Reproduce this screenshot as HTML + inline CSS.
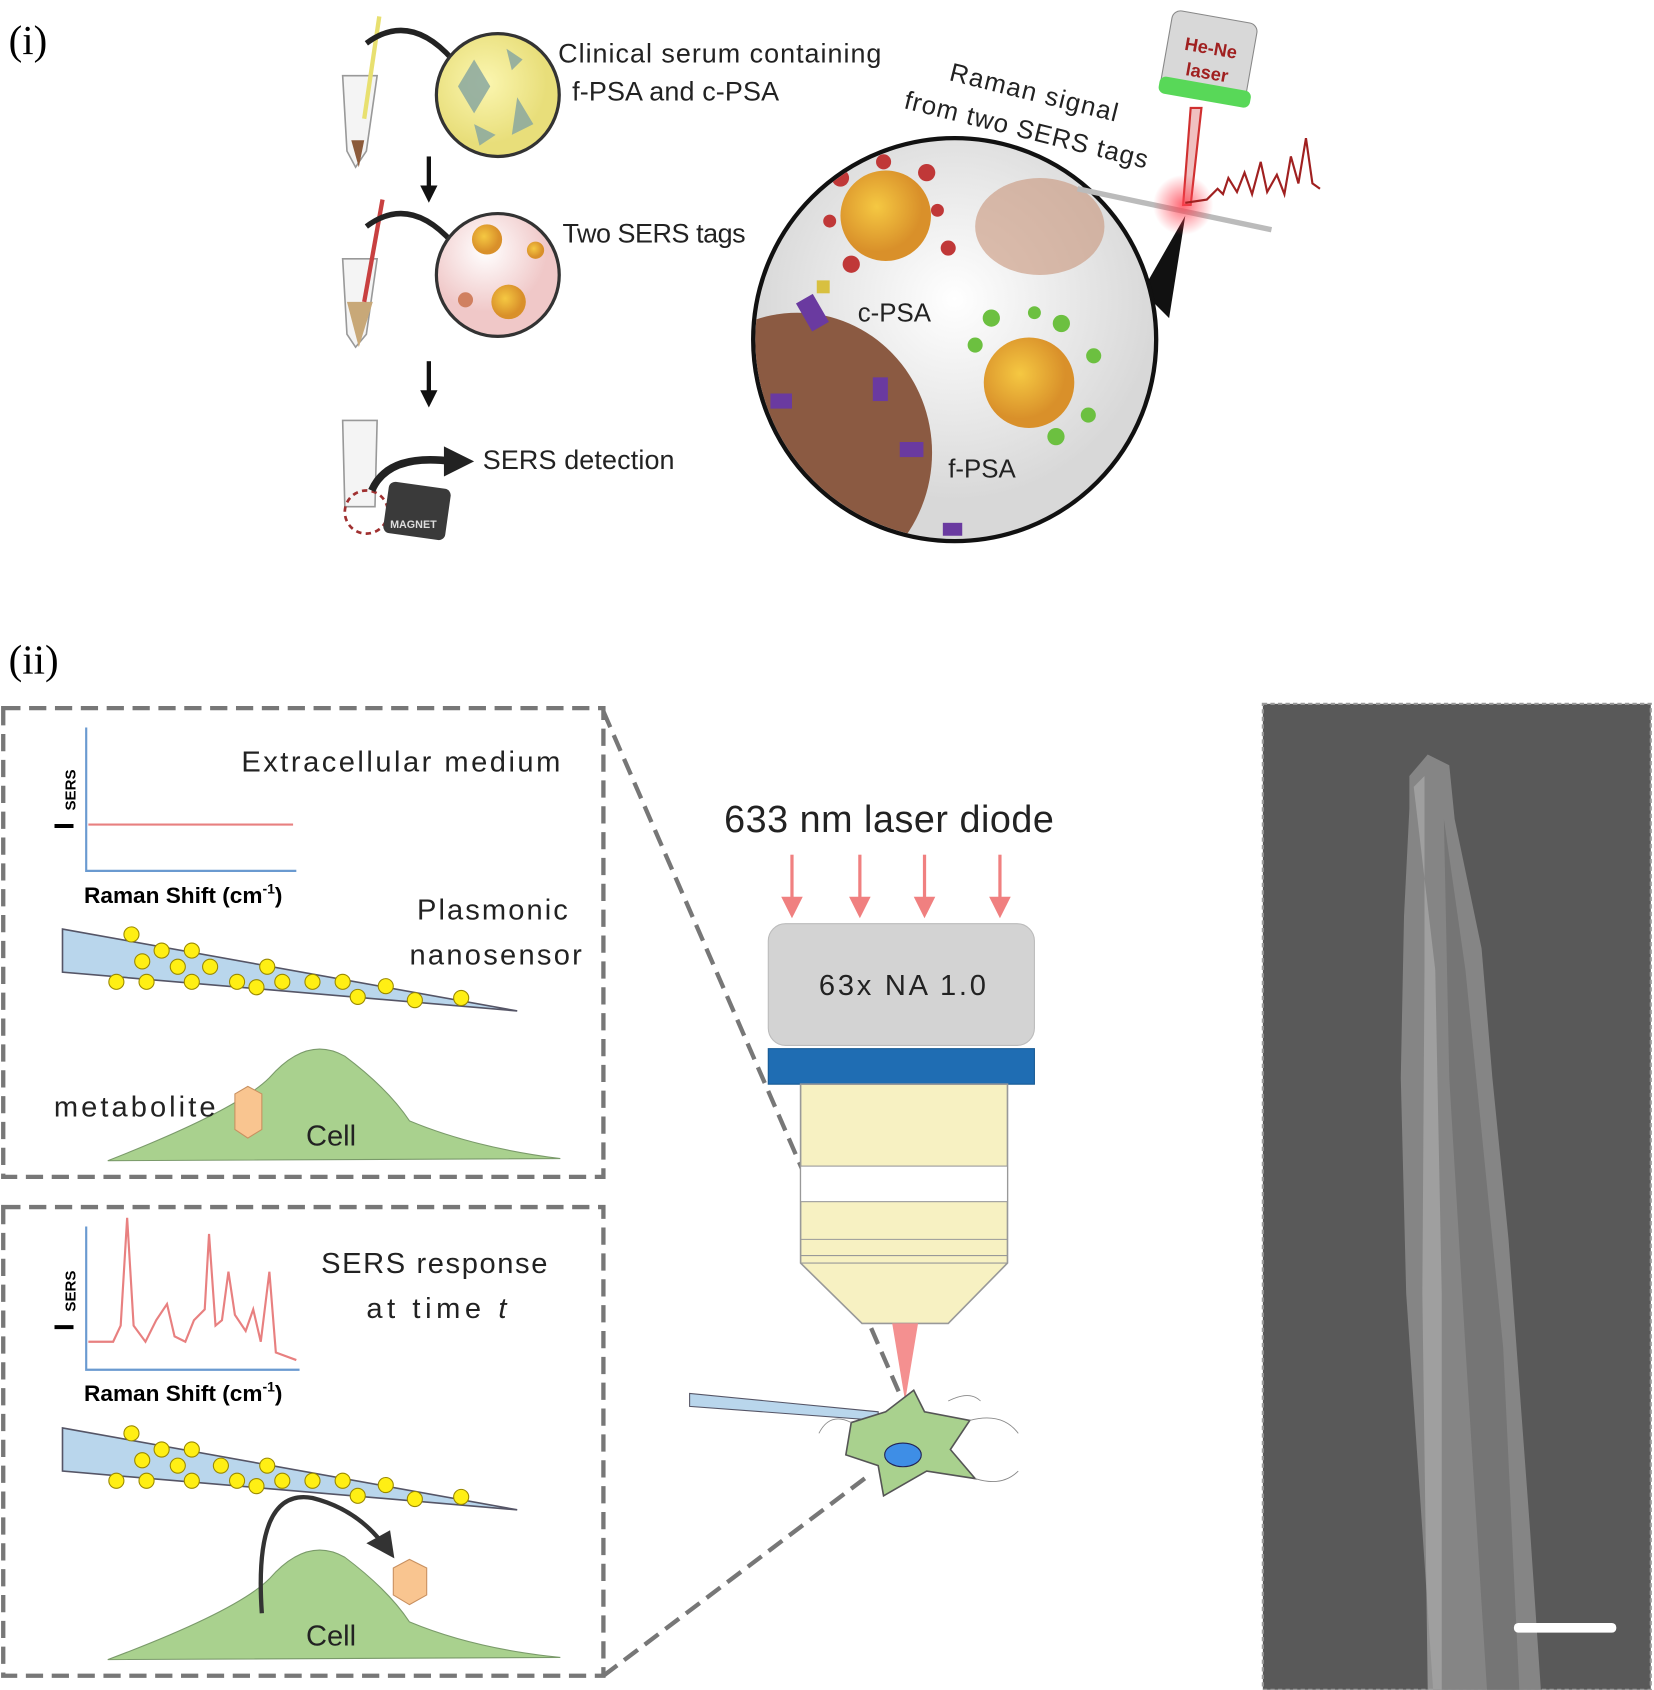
<!DOCTYPE html>
<html><head><meta charset="utf-8"><style>
html,body{margin:0;padding:0;background:#fff;}
svg{display:block;}
text{font-family:"Liberation Sans","DejaVu Sans",sans-serif;}
</style></head><body>
<svg width="1654" height="1690" viewBox="0 0 1535 1568" xmlns="http://www.w3.org/2000/svg">
<defs>
<radialGradient id="gy" cx="0.4" cy="0.4"><stop offset="0" stop-color="#fbf6b0"/><stop offset="1" stop-color="#e8de7a"/></radialGradient>
<radialGradient id="gp" cx="0.4" cy="0.3"><stop offset="0" stop-color="#ffffff"/><stop offset="1" stop-color="#f0c8c8"/></radialGradient>
<radialGradient id="gb" cx="0.5" cy="0.4"><stop offset="0" stop-color="#ffffff"/><stop offset="1" stop-color="#d8d8d8"/></radialGradient>
<radialGradient id="gr" cx="0.5" cy="0.5"><stop offset="0" stop-color="#ff4050" stop-opacity="0.8"/><stop offset="1" stop-color="#ff4050" stop-opacity="0"/></radialGradient>
<radialGradient id="gn" cx="0.4" cy="0.4"><stop offset="0" stop-color="#f5c842"/><stop offset="1" stop-color="#d9902a"/></radialGradient>
</defs>
<!-- (i) -->
<text x="8" y="50" font-size="38" style="font-family:'Liberation Serif',serif">(i)</text>
<g stroke="#999" stroke-width="1.5" fill="#f4f4f4">
<path d="M318 70 L350 70 L340 140 L330 155 L322 140 Z"/>
<path d="M318 240 L350 240 L340 310 L330 322 L322 310 Z"/>
<path d="M318 390 L350 390 L348 470 L320 470 Z"/>
</g>
<path d="M326 130 L338 130 L333 155 Z" fill="#8b5a3a"/>
<path d="M322 280 L346 280 L333 322 Z" fill="#c8a878"/>
<line x1="352" y1="15" x2="338" y2="110" stroke="#e8e070" stroke-width="4"/>
<line x1="355" y1="185" x2="338" y2="280" stroke="#c84040" stroke-width="4"/>
<path d="M340 40 Q380 10 420 55" fill="none" stroke="#222" stroke-width="5"/>
<path d="M340 210 Q380 180 420 225" fill="none" stroke="#222" stroke-width="5"/>
<circle cx="462" cy="88" r="57" fill="url(#gy)" stroke="#333" stroke-width="3"/>
<g fill="#8aa8a0" opacity="0.85"><polygon points="440,55 455,80 440,105 425,80"/><polygon points="480,90 495,115 475,125"/><polygon points="470,45 485,55 475,65"/><polygon points="440,115 460,125 445,135"/></g>
<circle cx="462" cy="255" r="57" fill="url(#gp)" stroke="#333" stroke-width="3"/>
<circle cx="452" cy="222" r="14" fill="url(#gn)"/><circle cx="472" cy="280" r="16" fill="url(#gn)"/><circle cx="497" cy="232" r="8" fill="url(#gn)"/><circle cx="432" cy="278" r="7" fill="#d08060"/>
<path d="M398 145 L398 178" stroke="#111" stroke-width="4"/><polygon points="390,172 406,172 398,188" fill="#111"/>
<path d="M398 335 L398 368" stroke="#111" stroke-width="4"/><polygon points="390,362 406,362 398,378" fill="#111"/>
<circle cx="340" cy="475" r="20" fill="none" stroke="#a03030" stroke-width="2.5" stroke-dasharray="5 4"/>
<rect x="358" y="450" width="58" height="48" rx="6" fill="#3a3a3a" transform="rotate(8 387 474)"/>
<text x="362" y="490" font-size="10" fill="#ddd" font-weight="bold">MAGNET</text>
<path d="M345 455 Q360 420 420 428" fill="none" stroke="#222" stroke-width="7"/><polygon points="412,414 440,428 412,442" fill="#222"/>
<text x="518" y="58" font-size="25" fill="#222" textLength="300">Clinical serum containing</text>
<text x="531" y="93" font-size="25" fill="#222" textLength="192">f-PSA and c-PSA</text>
<text x="522" y="225" font-size="25" fill="#222" textLength="170">Two SERS tags</text>
<text x="448" y="435" font-size="25" fill="#222" textLength="178">SERS detection</text>
<!-- big circle -->
<path d="M1060 270 L1100 200 L1085 295 Z" fill="#111"/>
<circle cx="886" cy="315" r="187" fill="url(#gb)" stroke="#111" stroke-width="4"/>
<clipPath id="cc"><circle cx="886" cy="315" r="185"/></clipPath>
<g clip-path="url(#cc)">
<ellipse cx="740" cy="420" rx="125" ry="130" fill="#8b5a42"/>
<ellipse cx="965" cy="210" rx="60" ry="45" fill="#c8957a" opacity="0.6"/>
<circle cx="822" cy="200" r="42" fill="url(#gn)"/>
<g fill="#c03838"><circle cx="780" cy="165" r="8"/><circle cx="860" cy="160" r="8"/><circle cx="880" cy="230" r="7"/><circle cx="790" cy="245" r="8"/><circle cx="820" cy="150" r="7"/><circle cx="870" cy="195" r="6"/><circle cx="770" cy="205" r="6"/></g>
<circle cx="955" cy="355" r="42" fill="url(#gn)"/>
<g fill="#6cc040"><circle cx="920" cy="295" r="8"/><circle cx="985" cy="300" r="8"/><circle cx="1015" cy="330" r="7"/><circle cx="1010" cy="385" r="7"/><circle cx="980" cy="405" r="8"/><circle cx="905" cy="320" r="7"/><circle cx="960" cy="290" r="6"/></g>
<g fill="#6a3aa0"><rect x="745" y="275" width="18" height="30" transform="rotate(-30 754 290)"/><rect x="810" y="350" width="14" height="22"/><rect x="835" y="410" width="22" height="14"/><rect x="875" y="485" width="18" height="12"/><rect x="715" y="365" width="20" height="14"/></g>
<rect x="758" y="260" width="12" height="12" fill="#d8c040"/>
</g>
<text x="796" y="298" font-size="24" fill="#222">c-PSA</text>
<text x="880" y="443" font-size="24" fill="#222">f-PSA</text>
<text x="880" y="74" font-size="24" fill="#222" transform="rotate(14 880 74)" textLength="160">Raman signal</text>
<text x="838" y="100" font-size="24" fill="#222" transform="rotate(14 838 100)" textLength="232">from two SERS tags</text>
<!-- laser -->
<rect x="1082" y="15" width="80" height="75" rx="8" fill="#d8d8d8" stroke="#888" transform="rotate(10 1122 52)"/>
<text x="1098" y="50" font-size="17" fill="#a02020" font-weight="bold" transform="rotate(10 1122 52)">He-Ne</text>
<text x="1103" y="73" font-size="17" fill="#a02020" font-weight="bold" transform="rotate(10 1122 52)">laser</text>
<rect x="1075" y="78" width="86" height="16" rx="6" fill="#58d858" transform="rotate(10 1122 86)"/>
<path d="M1105 100 L1115 100 L1105 190 L1098 190 Z" fill="#f0c0c0" stroke="#d03030" stroke-width="2"/>
<line x1="1000" y1="175" x2="1180" y2="213" stroke="#bbb" stroke-width="5"/>
<circle cx="1098" cy="190" r="28" fill="url(#gr)"/>
<polyline points="1100,188 1120,185 1130,175 1135,180 1140,165 1148,178 1155,160 1162,180 1170,150 1176,178 1185,162 1192,180 1198,145 1205,170 1212,128 1218,170 1225,175" fill="none" stroke="#a02020" stroke-width="2"/>
<!-- (ii) -->
<text x="8" y="625" font-size="38" style="font-family:'Liberation Serif',serif">(ii)</text>
<g fill="none" stroke="#777" stroke-width="4" stroke-dasharray="16 8">
<rect x="3" y="657" width="557" height="435"/>
<rect x="3" y="1120" width="557" height="435"/>
<line x1="560" y1="660" x2="840" y2="1305"/>
<line x1="560" y1="1555" x2="805" y2="1370"/>
</g>
<!-- box1 -->
<path d="M80 675 L80 808 L275 808" fill="none" stroke="#6a9ad0" stroke-width="2"/>
<line x1="82" y1="765" x2="272" y2="765" stroke="#e88080" stroke-width="2"/>
<text x="68" y="770" font-size="26" font-weight="bold" transform="rotate(-90 68 770)">I</text>
<text x="70" y="752" font-size="14" font-weight="bold" transform="rotate(-90 70 752)">SERS</text>
<text x="78" y="838" font-size="21" font-weight="bold">Raman Shift (cm<tspan dy="-9" font-size="13">-1</tspan><tspan dy="9">)</tspan></text>
<text x="224" y="716" font-size="27" fill="#222" textLength="296">Extracellular medium</text>
<text x="387" y="853" font-size="27" fill="#222" textLength="140">Plasmonic</text>
<text x="380" y="895" font-size="27" fill="#222" textLength="160">nanosensor</text>
<polygon points="58,862 480,938 58,902" fill="#b9d6ec" stroke="#556" stroke-width="1.5"/>
<g fill="#ffef14" stroke="#998800" stroke-width="1">
<circle cx="122" cy="867" r="7"/><circle cx="150" cy="882" r="7"/><circle cx="178" cy="882" r="7"/><circle cx="132" cy="892" r="7"/><circle cx="165" cy="897" r="7"/><circle cx="195" cy="897" r="7"/><circle cx="248" cy="897" r="7"/><circle cx="108" cy="911" r="7"/><circle cx="136" cy="911" r="7"/><circle cx="178" cy="911" r="7"/><circle cx="220" cy="911" r="7"/><circle cx="238" cy="916" r="7"/><circle cx="262" cy="911" r="7"/><circle cx="290" cy="911" r="7"/><circle cx="318" cy="911" r="7"/><circle cx="332" cy="925" r="7"/><circle cx="358" cy="915" r="7"/><circle cx="385" cy="928" r="7"/><circle cx="428" cy="926" r="7"/>
</g>
<path d="M100 1077 Q220 1030 250 1000 Q285 960 320 980 Q360 1010 380 1040 Q440 1065 520 1075 Z" fill="#a9d18e" stroke="#7a9a6a"/>
<polygon points="218,1015 230,1008 243,1015 243,1048 230,1056 218,1048" fill="#f9c590" stroke="#c89060"/>
<text x="50" y="1036" font-size="27" fill="#222" textLength="150">metabolite</text>
<text x="284" y="1063" font-size="27" fill="#222">Cell</text>
<!-- box2 -->
<path d="M80 1138 L80 1271 L278 1271" fill="none" stroke="#6a9ad0" stroke-width="2"/>
<polyline points="82,1245 105,1245 112,1230 118,1130 124,1230 135,1245 145,1225 155,1210 162,1240 172,1245 180,1225 190,1215 194,1145 200,1230 206,1225 212,1180 218,1220 228,1235 235,1215 242,1245 250,1180 256,1255 275,1262" fill="none" stroke="#e88080" stroke-width="2"/>
<text x="68" y="1235" font-size="26" font-weight="bold" transform="rotate(-90 68 1235)">I</text>
<text x="70" y="1217" font-size="14" font-weight="bold" transform="rotate(-90 70 1217)">SERS</text>
<text x="78" y="1300" font-size="21" font-weight="bold">Raman Shift (cm<tspan dy="-9" font-size="13">-1</tspan><tspan dy="9">)</tspan></text>
<text x="298" y="1181" font-size="27" fill="#222" textLength="210">SERS  response</text>
<text x="340" y="1223" font-size="27" fill="#222" textLength="130">at  time <tspan font-style="italic">t</tspan></text>
<polygon points="58,1325 480,1401 58,1365" fill="#b9d6ec" stroke="#556" stroke-width="1.5"/>
<g fill="#ffef14" stroke="#998800" stroke-width="1">
<circle cx="122" cy="1330" r="7"/><circle cx="150" cy="1345" r="7"/><circle cx="178" cy="1345" r="7"/><circle cx="132" cy="1355" r="7"/><circle cx="165" cy="1360" r="7"/><circle cx="205" cy="1360" r="7"/><circle cx="248" cy="1360" r="7"/><circle cx="108" cy="1374" r="7"/><circle cx="136" cy="1374" r="7"/><circle cx="178" cy="1374" r="7"/><circle cx="220" cy="1374" r="7"/><circle cx="238" cy="1379" r="7"/><circle cx="262" cy="1374" r="7"/><circle cx="290" cy="1374" r="7"/><circle cx="318" cy="1374" r="7"/><circle cx="332" cy="1388" r="7"/><circle cx="358" cy="1378" r="7"/><circle cx="385" cy="1391" r="7"/><circle cx="428" cy="1389" r="7"/>
</g>
<path d="M100 1540 Q220 1495 250 1465 Q285 1425 320 1445 Q360 1475 380 1505 Q440 1530 520 1538 Z" fill="#a9d18e" stroke="#7a9a6a"/>
<path d="M243 1497 Q235 1380 290 1390 Q330 1400 355 1432" fill="none" stroke="#333" stroke-width="4"/>
<polygon points="340,1432 366,1446 362,1420" fill="#333"/>
<polygon points="365,1455 380,1447 396,1455 396,1480 380,1489 365,1480" fill="#f9c590" stroke="#c89060"/>
<text x="284" y="1527" font-size="27" fill="#222">Cell</text>
<!-- microscope -->
<text x="672" y="772" font-size="35" fill="#222" textLength="306">633  nm laser diode</text>
<g stroke="#f08080" stroke-width="3" fill="#f08080">
<line x1="735" y1="793" x2="735" y2="838"/><polygon points="725,832 745,832 735,852" stroke="none"/>
<line x1="798" y1="793" x2="798" y2="838"/><polygon points="788,832 808,832 798,852" stroke="none"/>
<line x1="858" y1="793" x2="858" y2="838"/><polygon points="848,832 868,832 858,852" stroke="none"/>
<line x1="928" y1="793" x2="928" y2="838"/><polygon points="918,832 938,832 928,852" stroke="none"/>
</g>
<rect x="713" y="857" width="247" height="113" rx="16" fill="#d3d3d3" stroke="#bbb"/>
<text x="760" y="923" font-size="27" fill="#222" textLength="155">63x NA 1.0</text>
<rect x="713" y="973" width="247" height="33" fill="#1f6db3" stroke="#175a94"/>
<path d="M743 1006 L935 1006 L935 1172 L880 1228 L800 1228 L743 1172 Z" fill="#f7f1c2" stroke="#999" stroke-width="1.5"/>
<rect x="743" y="1082" width="192" height="33" fill="#fff" stroke="#999"/>
<line x1="743" y1="1150" x2="935" y2="1150" stroke="#999"/><line x1="743" y1="1165" x2="935" y2="1165" stroke="#999"/><line x1="743" y1="1172" x2="935" y2="1172" stroke="#999"/>
<polygon points="828,1228 852,1228 840,1300" fill="#f49090"/>
<polygon points="640,1293 815,1310 815,1318 640,1305" fill="#b9d6ec" stroke="#556"/>
<path d="M790 1320 L822 1310 L848 1290 L858 1310 L900 1318 L882 1345 L905 1372 L860 1365 L820 1388 L815 1360 L785 1350 Z" fill="#a9d18e" stroke="#555" stroke-width="1.5"/>
<g stroke="#888" fill="none" stroke-width="0.8"><path d="M900 1318 Q930 1310 945 1330"/><path d="M905 1372 Q930 1380 945 1365"/><path d="M790 1320 Q770 1310 760 1330"/><path d="M880 1300 Q900 1290 910 1300"/></g>
<ellipse cx="838" cy="1350" rx="17" ry="11" fill="#3e8ee6" stroke="#225"/>
<!-- SEM -->
<rect x="1172" y="653" width="360" height="915" fill="#595959" stroke="#999" stroke-width="2" stroke-dasharray="4 3"/>
<path d="M1308 720 L1325 700 L1345 710 L1350 760 L1375 880 L1385 1000 L1400 1150 L1420 1420 L1430 1568 L1330 1568 L1320 1420 L1305 1200 L1300 1000 L1303 850 L1308 750 Z" fill="#858585"/>
<path d="M1312 730 L1322 720 L1322 900 L1320 1200 L1325 1568 L1338 1568 L1338 1200 L1332 900 Z" fill="#aaa" opacity="0.7"/>
<path d="M1340 760 L1360 900 L1375 1050 L1395 1250 L1410 1568 L1380 1568 L1360 1250 L1345 1000 Z" fill="#6e6e6e" opacity="0.7"/>
<rect x="1405" y="1506" width="95" height="9" rx="4" fill="#fff"/>
</svg>
</body></html>
